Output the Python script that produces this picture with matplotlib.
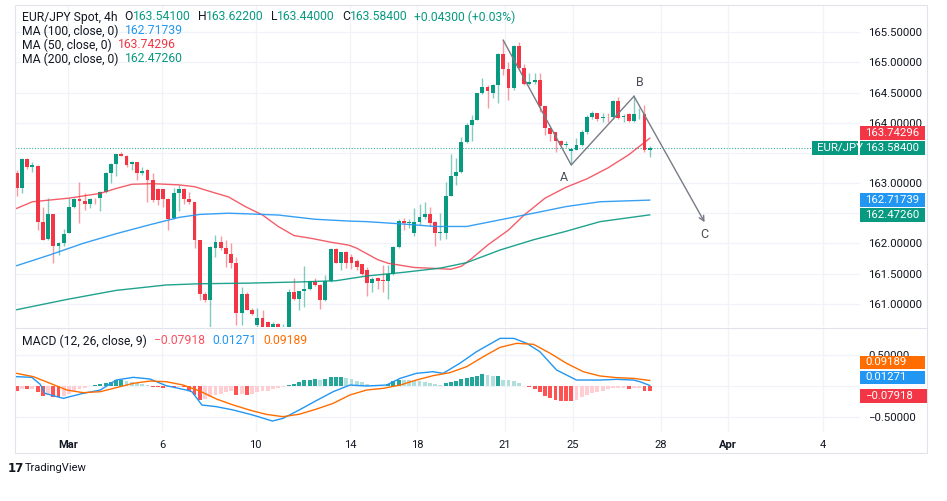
import matplotlib
matplotlib.use('Agg')
import matplotlib.pyplot as plt
import numpy as np
from matplotlib.patches import Rectangle
from matplotlib.lines import Line2D
from matplotlib.ticker import FuncFormatter

plt.rcParams['font.family'] = ['Roboto', 'DejaVu Sans']

# ---- data (4h candles, index 0 = first bar on screen) ----
opens = [163.16, 162.92, 163.40, 163.27, 163.29, 162.36, 162.07, 162.49, 161.95, 162.00,
         162.17, 162.61, 162.73, 162.70, 162.66, 162.74, 162.76, 162.85, 163.16, 163.31,
         163.48, 163.45, 163.31, 163.35, 163.16, 163.21, 163.05, 162.90, 162.90, 162.73,
         162.42, 162.83, 162.90, 162.73, 162.69, 162.06, 161.16, 161.06, 161.92, 162.02,
         161.92, 161.82, 161.68, 160.84, 161.16, 160.90, 160.65, 160.76, 160.70, 160.60,
         160.66, 160.55, 160.60, 161.20, 161.07, 161.21, 161.25, 161.37, 161.31, 161.06,
         161.37, 161.90, 161.68, 161.85, 161.78, 161.70, 161.65, 161.55, 161.34, 161.42,
         161.40, 161.38, 161.50, 161.94, 162.37, 162.33, 162.18, 162.36, 162.43, 162.48,
         162.36, 162.17, 162.18, 162.79, 163.11, 163.19, 163.68, 163.96, 164.05, 164.49,
         164.60, 164.49, 164.63, 165.14, 164.89, 164.57, 165.28, 164.90, 164.65, 164.68,
         164.71, 164.27, 163.91, 163.84, 163.70, 163.63, 163.54, 163.55, 163.63, 163.85,
         164.10, 164.16, 164.08, 164.10, 164.10, 164.36, 164.09, 164.14, 164.03, 164.14,
         164.14, 163.541]
highs = [163.22, 163.41, 163.41, 163.35, 163.30, 162.61, 162.75, 162.49, 162.03, 162.23,
         162.75, 162.76, 163.01, 162.83, 162.76, 162.75, 162.87, 163.19, 163.34, 163.48,
         163.52, 163.47, 163.37, 163.35, 163.27, 163.24, 163.16, 162.91, 162.90, 162.75,
         162.92, 162.97, 162.91, 162.86, 162.69, 162.06, 161.20, 161.96, 162.14, 162.13,
         162.06, 162.00, 161.78, 161.28, 161.20, 160.92, 160.92, 160.90, 160.72, 160.70,
         160.68, 160.66, 161.25, 161.43, 161.21, 161.63, 161.38, 161.43, 161.32, 161.47,
         161.92, 161.92, 161.86, 161.87, 161.82, 161.74, 161.66, 161.60, 161.45, 161.45,
         161.64, 161.64, 161.95, 162.40, 162.42, 162.40, 162.58, 162.65, 162.69, 162.61,
         162.37, 162.50, 163.02, 163.49, 163.41, 163.77, 163.99, 164.13, 164.50, 164.75,
         164.62, 164.64, 165.15, 165.37, 165.01, 165.29, 165.34, 164.98, 164.82, 164.82,
         164.82, 164.27, 163.91, 163.85, 163.71, 163.69, 163.58, 163.74, 163.88, 164.13,
         164.20, 164.17, 164.17, 164.16, 164.38, 164.43, 164.15, 164.16, 164.43, 164.24,
         164.30, 163.622]
lows = [162.78, 162.83, 163.24, 163.18, 162.22, 162.05, 162.05, 161.68, 161.81, 161.95,
        162.17, 162.58, 162.34, 162.55, 162.58, 162.66, 162.54, 162.83, 163.00, 163.11,
        163.45, 163.27, 163.22, 163.05, 163.14, 162.69, 162.69, 162.64, 162.61, 162.22,
        162.40, 162.53, 162.66, 162.65, 161.92, 161.06, 161.03, 160.60, 161.78, 161.89,
        161.61, 161.59, 160.65, 160.65, 160.89, 160.81, 160.57, 160.57, 160.50, 160.52,
        160.45, 160.48, 160.55, 161.06, 160.90, 160.95, 161.23, 161.30, 160.91, 161.05,
        161.36, 161.67, 161.56, 161.59, 161.58, 161.55, 161.48, 161.12, 161.20, 161.25,
        161.20, 161.07, 161.48, 161.93, 162.22, 162.25, 162.12, 162.30, 162.40, 162.28,
        161.95, 162.06, 162.08, 162.78, 162.97, 163.17, 163.67, 163.69, 164.04, 164.48,
        164.25, 164.41, 164.32, 164.80, 164.38, 164.55, 164.88, 164.63, 164.62, 164.64,
        164.18, 163.80, 163.69, 163.51, 163.60, 163.60, 163.30, 163.55, 163.62, 163.82,
        164.07, 164.03, 164.01, 164.01, 164.07, 164.07, 164.02, 164.01, 164.02, 164.07,
        163.52, 163.44]
closes = [162.92, 163.40, 163.26, 163.30, 162.36, 162.06, 162.49, 161.95, 162.00, 162.15,
          162.61, 162.73, 162.71, 162.66, 162.74, 162.73, 162.85, 163.16, 163.31, 163.48,
          163.45, 163.30, 163.35, 163.16, 163.20, 163.05, 162.72, 162.72, 162.73, 162.40,
          162.83, 162.90, 162.73, 162.69, 162.06, 161.16, 161.06, 161.94, 162.02, 161.92,
          161.82, 161.68, 160.84, 161.16, 160.90, 160.83, 160.76, 160.62, 160.60, 160.66,
          160.55, 160.60, 161.19, 161.07, 161.21, 161.25, 161.37, 161.31, 161.06, 161.37,
          161.90, 161.67, 161.85, 161.67, 161.68, 161.60, 161.50, 161.34, 161.41, 161.38,
          161.38, 161.50, 161.94, 162.37, 162.33, 162.35, 162.36, 162.44, 162.48, 162.33,
          162.17, 162.19, 162.79, 163.11, 163.19, 163.68, 163.96, 164.05, 164.49, 164.60,
          164.52, 164.63, 165.14, 164.89, 164.57, 165.28, 164.90, 164.65, 164.68, 164.71,
          164.27, 163.91, 163.82, 163.69, 163.63, 163.65, 163.56, 163.63, 163.85, 164.10,
          164.16, 164.07, 164.10, 164.09, 164.36, 164.08, 164.11, 164.03, 164.14, 164.15,
          163.55, 163.584]

# moving averages, sampled along the drawn lines (bar index, value)
ma50_x = [0, 3, 10, 16, 19, 22, 26, 31, 34, 37, 40.5, 43.7, 47, 50, 53, 56.5, 60, 63.5, 65, 69,
          71, 76, 81, 83, 85, 87, 90, 94, 97, 101, 105, 109, 113, 117, 121]
ma50_y = [162.58, 162.69, 162.75, 162.83, 162.91, 162.98, 162.99, 162.97, 162.94, 162.86,
          162.77, 162.61, 162.47, 162.28, 162.13, 162.08, 162.02, 161.97, 161.92, 161.73,
          161.67, 161.60, 161.58, 161.57, 161.62, 161.75, 161.97, 162.22, 162.47, 162.75,
          162.93, 163.07, 163.25, 163.47, 163.74296]
ma100_x = [0, 6.4, 12.7, 19, 25.5, 31, 35, 40.5, 44, 50, 57, 63.5, 67, 74, 80, 86, 92.4, 98.8,
           105, 111.5, 121]
ma100_y = [161.63, 161.81, 162.00, 162.16, 162.31, 162.43, 162.48, 162.50, 162.49, 162.47,
           162.40, 162.37, 162.36, 162.32, 162.28, 162.28, 162.39, 162.50, 162.61, 162.69,
           162.71739]
ma200_x = [0, 9.6, 19, 28.6, 35, 44, 54, 61, 67, 74, 81, 86, 92.4, 98.8, 105, 111.5, 121]
ma200_y = [160.90, 161.07, 161.22, 161.31, 161.33, 161.34, 161.36, 161.38, 161.46, 161.52,
           161.59, 161.68, 161.89, 162.06, 162.20, 162.36, 162.4726]

# MACD (12, 26, close, 9)
macd_x = [0, 2.9, 4.5, 5.4, 8.9, 12.7, 16, 19, 22.3, 25.5, 28.6, 32.4, 33.5, 35.4, 38.2, 41.4,
          45.1, 48.9, 50.9, 54, 57.2, 60.5, 63.7, 66.9, 70.7, 73.3, 76.4, 79.6, 81.5, 84.7,
          87.9, 92.4, 95, 97.5, 100, 103.2, 107, 111.5, 114.7, 117.9, 119.1, 121]
macd_y = [0.153, 0.142, 0.03, -0.115, -0.195, -0.115, -0.061, 0.099, 0.142, 0.115,
          0.008, -0.061, -0.088, -0.302, -0.329, -0.382, -0.462, -0.559, -0.516, -0.382,
          -0.235, -0.088, 0.019, 0.003, 0.019, 0.126, 0.206, 0.233, 0.206, 0.367,
          0.554, 0.768, 0.768, 0.688, 0.554, 0.26, 0.099, 0.099, 0.110, 0.099, 0.073, 0.01271]
signal_x = [0, 3.2, 6.4, 9.6, 12.7, 16, 19, 22.3, 25.5, 28.6, 31.8, 35, 38.2, 41.4, 44.5, 47.7,
            50.9, 54, 57.2, 60.5, 63.7, 66.9, 70.1, 73.3, 76.4, 79.6, 82.8, 86, 89.2, 92.4,
            95.6, 98.8, 102, 105.1, 108.3, 111.5, 114.7, 117.9, 121]
signal_y = [0.206, 0.153, 0.046, -0.061, -0.104, -0.088, -0.024, 0.046, 0.083, 0.072,
            0.019, -0.077, -0.206, -0.302, -0.382, -0.452, -0.489, -0.45, -0.37, -0.275,
            -0.141, -0.061, -0.034, 0.019, 0.099, 0.169, 0.217, 0.313, 0.474, 0.624,
            0.688, 0.672, 0.527, 0.367, 0.233, 0.164, 0.137, 0.126, 0.09189]
hist = [-0.08, -0.05, -0.05, -0.04, -0.10, -0.15, -0.14, -0.18, -0.18, -0.16,
        -0.12, -0.08, -0.05, -0.03, 0.01, 0.02, 0.03, 0.05, 0.07, 0.10,
        0.10, 0.08, 0.06, 0.045, 0.03, 0.02, -0.01, -0.02, -0.03, -0.02,
        -0.02, -0.01, -0.02, -0.08, -0.14, -0.22, -0.20, -0.17, -0.14, -0.12,
        -0.10, -0.08, -0.14, -0.12, -0.14, -0.12, -0.10, -0.08, -0.07, -0.05,
        -0.03, -0.01, 0.02, 0.03, 0.06, 0.10, 0.105, 0.115, 0.10, 0.11,
        0.14, 0.147, 0.153, 0.137, 0.11, 0.09, 0.062, 0.035, 0.02, 0.014,
        0.009, 0.03, 0.09, 0.105, 0.10, 0.095, 0.09, 0.083, 0.073, 0.057,
        0.035, 0.02, 0.046, 0.073, 0.083, 0.11, 0.137, 0.153, 0.169, 0.19,
        0.18, 0.165, 0.17, 0.10, 0.095, 0.09, 0.046, 0.003, -0.02, -0.05,
        -0.09, -0.157, -0.195, -0.22, -0.232, -0.233, -0.235, -0.22, -0.18, -0.14,
        -0.115, -0.09, -0.07, -0.05, -0.035, -0.033, -0.03, -0.05, -0.035, -0.033,
        -0.07, -0.07918]

# ABC drawing: peak, A, B, projected C
wave_x = [93, 106, 118, 131.5]
wave_y = [165.37, 163.30, 164.44, 162.35]
wave_labels = ['', 'A', 'B', 'C']

date_ticks = [9.8, 27.8, 45.7, 63.7, 76.5, 93.3, 106.3, 123.1, 136, 154.1]
date_labels = ['Mar', '6', '10', '14', '18', '21', '25', '28', 'Apr', '4']
price_ticks = [161.0, 161.5, 162.0, 162.5, 163.0, 163.5, 164.0, 164.5, 165.0, 165.5]
hidden_price_ticks = [162.5, 163.5]   # covered by the value tags in the original
macd_ticks = [-0.5, 0.0, 0.5]

DARK = '#131722'
GREEN = '#089981'
RED = '#f23645'
BLUE = '#2196f3'
ORANGE = '#ff6d00'
GRID = '#f0f3fa'
GREY = '#787b86'

W, H = 947, 501
fig = plt.figure(figsize=(W / 100, H / 100), dpi=100)


def fbox(x0, y0, x1, y1):
    return [x0 / W, 1 - y1 / H, (x1 - x0) / W, (y1 - y0) / H]


ax = fig.add_axes(fbox(15, 5, 860, 327))
axm = fig.add_axes(fbox(15, 328, 860, 432), sharex=ax)

o, h, l, c = map(np.array, (opens, highs, lows, closes))
idx = np.arange(len(o))
cols = np.where(c >= o, GREEN, RED)

ax.vlines(idx, l, h, colors=cols, linewidth=1, alpha=0.5, zorder=2)
ax.bar(idx, np.maximum(np.abs(c - o), 0.012), bottom=np.minimum(o, c), width=0.74,
       color=cols, linewidth=0, zorder=3)

ax.plot(ma50_x, ma50_y, color=RED, lw=1, alpha=0.8, zorder=4)
ax.plot(ma100_x, ma100_y, color=BLUE, lw=1, alpha=0.9, zorder=4)
ax.plot(ma200_x, ma200_y, color=GREEN, lw=1, alpha=0.9, zorder=4)

ax.axhline(c[-1], color=GREEN, lw=0.8, ls=(0, (1, 1.5)), alpha=0.8, zorder=1)

# ABC zigzag
ax.plot(wave_x[:3], wave_y[:3], color=GREY, lw=1, zorder=5)
ax.annotate('', xy=(wave_x[3], wave_y[3]), xytext=(wave_x[2], wave_y[2]),
            arrowprops=dict(arrowstyle='->', color=GREY, lw=1, shrinkA=0, shrinkB=0,
                            mutation_scale=9), zorder=5)
label_off = {'A': (-5, -9), 'B': (4, 10), 'C': (0, -9)}
for x, y, s in zip(wave_x, wave_y, wave_labels):
    if s:
        ax.annotate(s, (x, y), xytext=label_off[s], textcoords='offset points',
                    ha='center', va='center', color='#4a4e59', fontsize=9)

ax.set_ylim(160.613, 165.953)
ax.set_xlim(-0.32, 161.2)
ax.set_yticks(price_ticks)
ax.yaxis.tick_right()
ax.yaxis.set_major_formatter(FuncFormatter(
    lambda v, p: '' if round(v, 2) in hidden_price_ticks else f'{v:.5f}'))

# MACD panel
prev = np.concatenate([[hist[0]], hist[:-1]])
hv = np.array(hist)
hcols = np.where(hv >= 0, np.where(hv >= prev, '#26a69a', '#b2dfdb'),
                 np.where(hv <= prev, '#ff5252', '#ffcdd2'))
axm.bar(idx, hv, width=0.74, color=hcols, linewidth=0, zorder=2)
axm.plot(macd_x, macd_y, color=BLUE, lw=1, zorder=3)
axm.plot(signal_x, signal_y, color=ORANGE, lw=1, zorder=3)
axm.set_ylim(-0.735, 0.934)
axm.set_yticks(macd_ticks)
axm.yaxis.tick_right()
axm.yaxis.set_major_formatter(FuncFormatter(
    lambda v, p: '' if v == 0 else f'{v:.5f}'.replace('-', '\u2212')))

for a in (ax, axm):
    for s in a.spines.values():
        s.set_visible(False)
    a.set_xticks(date_ticks)
    a.grid(True, color=GRID, lw=0.9, zorder=0)
    a.set_axisbelow(True)
    a.tick_params(axis='y', length=0, pad=6, labelsize=8.2, labelcolor=DARK)
    a.tick_params(axis='x', length=0)
ax.tick_params(axis='x', labelbottom=False)
axm.set_xticklabels(date_labels)
axm.tick_params(axis='x', pad=6, labelsize=8, labelcolor=DARK)
for t in axm.get_xticklabels():
    if t.get_text() in ('Mar', 'Apr'):
        t.set_fontweight('bold')

# frame and panel separator
fig.patches.append(Rectangle((15 / W, 1 - 453 / H), 912 / W, 448 / H, transform=fig.transFigure,
                             fill=False, ec='#e0e3eb', lw=0.8))
fig.lines.append(Line2D([15 / W, 927 / W], [1 - 327.5 / H] * 2, transform=fig.transFigure,
                        color='#e0e3eb', lw=0.8))


def tag(axis, value, label, color, shift=0, x0=860, x1=925):
    yc = axis.transData.transform((0, value))[1] + shift
    fig.patches.append(Rectangle((x0 / W, (yc - 6.8) / H), (x1 - x0) / W, 13.6 / H,
                                 transform=fig.transFigure, fc=color, ec='none', zorder=5))
    fig.text((x0 + 5) / W, yc / H, label, color='white', fontsize=8.2, va='center', ha='left',
             zorder=6)


tag(ax, ma50_y[-1], f'{ma50_y[-1]:.5f}', RED, shift=5)
tag(ax, c[-1], f'{c[-1]:.5f}', GREEN)
tag(ax, c[-1], 'EUR/JPY', GREEN, x0=812, x1=858)
tag(ax, ma100_y[-1], f'{ma100_y[-1]:.5f}', BLUE)
tag(ax, ma200_y[-1], f'{ma200_y[-1]:.5f}', GREEN)
tag(axm, signal_y[-1], f'{signal_y[-1]:.5f}', ORANGE, shift=18)
tag(axm, macd_y[-1], f'{macd_y[-1]:.5f}', BLUE, shift=8)
tag(axm, hist[-1], f'{hist[-1]:.5f}'.replace('-', '\u2212'), RED, shift=-5, x1=927)

# legend rows
renderer = fig.canvas.get_renderer()


def text_run(x, y, parts, size=8.7):
    # parts: (text, colour, gap in px after it)
    for s, col, gap in parts:
        t = fig.text(x / W, 1 - y / H, s, color=col, fontsize=size, va='center', ha='left')
        x += t.get_window_extent(renderer).width + gap
    return x


chg = c[-1] - o[-1]
text_run(22, 17, [('EUR/JPY Spot, 4h', DARK, 7),
                  ('O', DARK, 0), (f'{o[-1]:.5f}', GREEN, 7),
                  ('H', DARK, 0), (f'{h[-1]:.5f}', GREEN, 7),
                  ('L', DARK, 0), (f'{l[-1]:.5f}', GREEN, 7),
                  ('C', DARK, 0), (f'{c[-1]:.5f}', GREEN, 6),
                  (f'{chg:+.5f} ({chg / o[-1] * 100:+.2f}%)', GREEN, 0)])
text_run(22, 31, [('MA (100, close, 0)', DARK, 6), (f'{ma100_y[-1]:.5f}', BLUE, 0)])
text_run(22, 45, [('MA (50, close, 0)', DARK, 6), (f'{ma50_y[-1]:.5f}', RED, 0)])
text_run(22, 59, [('MA (200, close, 0)', DARK, 6), (f'{ma200_y[-1]:.5f}', GREEN, 0)])
text_run(22, 341, [('MACD (12, 26, close, 9)', DARK, 7),
                   (f'{hist[-1]:.5f}'.replace('-', '\u2212'), '#f7525f', 7),
                   (f'{macd_y[-1]:.5f}', BLUE, 7),
                   (f'{signal_y[-1]:.5f}', ORANGE, 0)])

fig.text(8 / W, 1 - 468 / H, '17', fontsize=8.5, fontweight='heavy', color=DARK,
         va='center', ha='left', family='DejaVu Sans')
fig.text(25 / W, 1 - 468 / H, 'TradingView', fontsize=8, color=DARK, va='center', ha='left')

fig.savefig('out.png', dpi=100)
